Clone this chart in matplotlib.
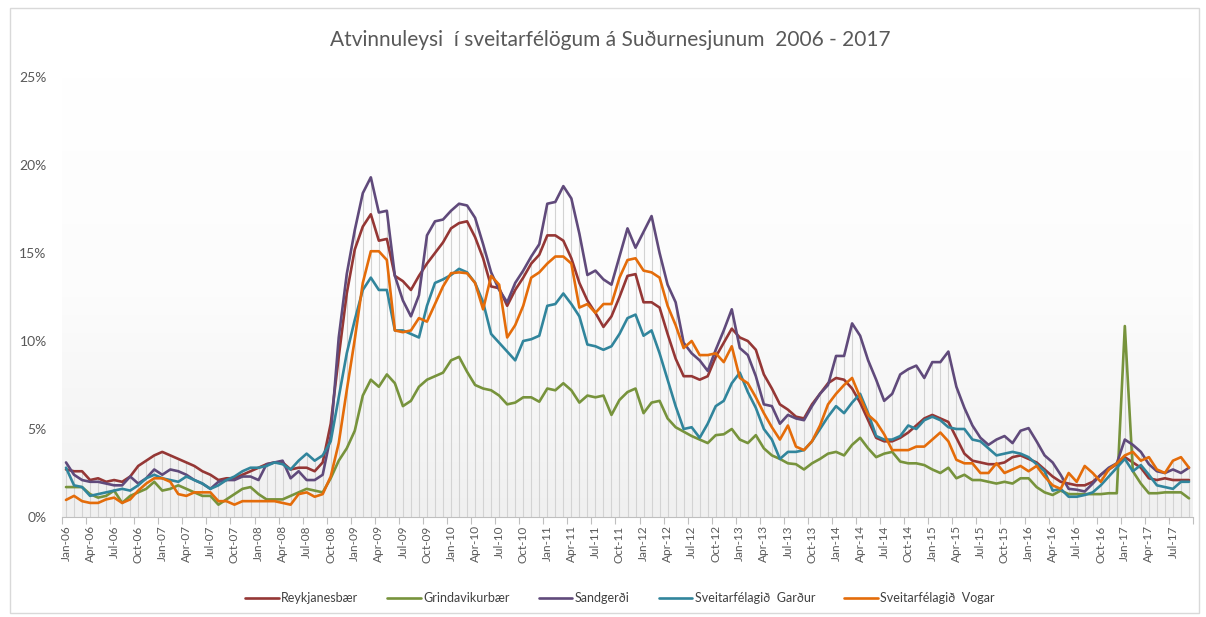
import numpy as np
import pandas as pd
import matplotlib
matplotlib.use("Agg")
from matplotlib import pyplot as plt
from matplotlib.patches import Rectangle
from matplotlib.colors import LinearSegmentedColormap

plt.rcParams['font.family'] = ['Lato', 'DejaVu Sans']

# monthly unemployment (%), Jan-06 .. Sep-17, one row per year
months = pd.date_range("2006-01-01", periods=141, freq="MS")
month_labels = [m.strftime("%b-%y") for m in months]

reykjanesbaer = [
    2.7, 2.6, 2.6, 2.1, 2.2, 2.0, 2.1, 2.0, 2.3, 2.9, 3.2, 3.5,
    3.7, 3.5, 3.3, 3.1, 2.9, 2.6, 2.4, 2.1, 2.2, 2.2, 2.4, 2.6,
    2.8, 3.0, 3.1, 3.1, 2.7, 2.8, 2.8, 2.6, 3.1, 5.3, 9.1, 12.7,
    15.2, 16.5, 17.2, 15.7, 15.8, 13.7, 13.4, 12.9, 13.7, 14.4, 15.0, 15.6,
    16.4, 16.7, 16.8, 15.9, 14.7, 13.1, 13.0, 12.0, 12.9, 13.6, 14.4, 14.9,
    16.0, 16.0, 15.7, 14.7, 13.3, 12.3, 11.6, 10.8, 11.4, 12.5, 13.7, 13.8,
    12.2, 12.2, 11.9, 10.4, 9.0, 8.0, 8.0, 7.8, 8.0, 9.1, 9.9, 10.7,
    10.2, 10.0, 9.5, 8.1, 7.3, 6.4, 6.1, 5.7, 5.6, 6.4, 7.0, 7.6,
    7.9, 7.8, 7.3, 6.5, 5.5, 4.5, 4.3, 4.3, 4.5, 4.8, 5.2, 5.6,
    5.8, 5.6, 5.4, 4.5, 3.6, 3.2, 3.1, 3.0, 3.0, 3.1, 3.4, 3.5,
    3.3, 3.1, 2.7, 2.3, 2.0, 1.9, 1.8, 1.8, 2.0, 2.4, 2.7, 3.0,
    3.4, 3.1, 2.8, 2.2, 2.1, 2.2, 2.1, 2.1, 2.1,
]

grindavik = [
    1.7, 1.7, 1.7, 1.3, 1.1, 1.2, 1.5, 0.8, 1.2, 1.4, 1.6, 2.0,
    1.5, 1.6, 1.8, 1.6, 1.4, 1.2, 1.2, 0.7, 1.0, 1.3, 1.6, 1.7,
    1.3, 1.0, 1.0, 1.0, 1.2, 1.4, 1.6, 1.5, 1.4, 2.2, 3.2, 3.9,
    4.9, 6.9, 7.8, 7.4, 8.1, 7.6, 6.3, 6.6, 7.4, 7.8, 8.0, 8.2,
    8.9, 9.1, 8.25, 7.5, 7.3, 7.2, 6.9, 6.4, 6.5, 6.8, 6.8, 6.55,
    7.3, 7.2, 7.6, 7.2, 6.5, 6.9, 6.8, 6.9, 5.8, 6.65, 7.1, 7.3,
    5.9, 6.5, 6.6, 5.6, 5.1, 4.85, 4.6, 4.4, 4.2, 4.65, 4.7, 5.0,
    4.4, 4.2, 4.65, 3.9, 3.5, 3.3, 3.05, 3.0, 2.7, 3.05, 3.3, 3.6,
    3.7, 3.5, 4.1, 4.5, 3.9, 3.4, 3.6, 3.7, 3.15, 3.05, 3.05, 2.95,
    2.7, 2.5, 2.8, 2.2, 2.4, 2.1, 2.1, 2.0, 1.9, 2.0, 1.9, 2.2,
    2.2, 1.7, 1.4, 1.25, 1.5, 1.3, 1.3, 1.3, 1.3, 1.3, 1.35, 1.35,
    10.85, 2.6, 1.9, 1.35, 1.35, 1.4, 1.4, 1.4, 1.06,
]

sandgerdi = [
    3.1, 2.4, 2.1, 2.0, 2.0, 1.9, 1.8, 1.8, 2.3, 1.9, 2.2, 2.7,
    2.4, 2.7, 2.6, 2.4, 2.1, 1.9, 1.6, 2.0, 2.1, 2.1, 2.3, 2.3,
    2.1, 3.0, 3.1, 3.2, 2.2, 2.6, 2.1, 2.1, 2.4, 4.6, 10.2, 13.8,
    16.3, 18.4, 19.3, 17.3, 17.4, 13.7, 12.3, 11.4, 12.6, 16.0, 16.8, 16.9,
    17.4, 17.8, 17.7, 17.0, 15.5, 13.9, 12.9, 12.2, 13.3, 14.0, 14.8, 15.5,
    17.8, 17.9, 18.8, 18.1, 16.1, 13.75, 14.0, 13.5, 13.2, 14.8, 16.4, 15.3,
    16.2, 17.1, 15.0, 13.2, 12.2, 9.9, 9.3, 8.9, 8.3, 9.5, 10.6, 11.8,
    9.6, 9.2, 8.0, 6.4, 6.3, 5.3, 5.8, 5.6, 5.5, 6.3, 7.0, 7.5,
    9.15, 9.15, 11.0, 10.3, 8.9, 7.8, 6.6, 7.0, 8.1, 8.4, 8.6, 7.9,
    8.8, 8.8, 9.4, 7.4, 6.2, 5.2, 4.5, 4.1, 4.4, 4.6, 4.2, 4.9,
    5.05, 4.3, 3.5, 3.1, 2.4, 1.6, 1.55, 1.45, 1.9, 2.4, 2.8, 3.05,
    4.4, 4.1, 3.7, 3.0, 2.6, 2.5, 2.7, 2.5, 2.8,
]

gardur = [
    2.8, 1.8, 1.7, 1.2, 1.3, 1.4, 1.5, 1.6, 1.5, 1.8, 2.2, 2.4,
    2.2, 2.1, 2.0, 2.3, 2.1, 1.9, 1.6, 1.8, 2.1, 2.3, 2.6, 2.8,
    2.8, 2.9, 3.1, 3.0, 2.7, 3.2, 3.6, 3.2, 3.5, 4.3, 6.8, 9.3,
    11.2, 12.9, 13.6, 12.9, 12.9, 10.6, 10.6, 10.4, 10.2, 12.0, 13.3, 13.5,
    13.75, 14.1, 13.9, 13.3, 12.2, 10.4, 9.9, 9.4, 8.9, 10.0, 10.1, 10.3,
    12.0, 12.1, 12.7, 12.1, 11.4, 9.8, 9.7, 9.5, 9.7, 10.4, 11.3, 11.5,
    10.3, 10.6, 9.3, 7.8, 6.3, 5.0, 5.1, 4.5, 5.3, 6.3, 6.6, 7.6,
    8.2, 7.1, 6.2, 5.0, 4.4, 3.3, 3.7, 3.7, 3.8, 4.3, 5.0, 5.7,
    6.3, 5.9, 6.5, 7.0, 5.9, 4.6, 4.4, 4.4, 4.6, 5.2, 5.0, 5.5,
    5.7, 5.5, 5.1, 5.0, 5.0, 4.4, 4.3, 3.9, 3.5, 3.6, 3.7, 3.6,
    3.4, 3.0, 2.6, 1.5, 1.6, 1.15, 1.15, 1.25, 1.4, 1.8, 2.3, 2.8,
    3.3, 2.6, 2.95, 2.4, 1.8, 1.7, 1.6, 2.0, 2.0,
]

vogar = [
    0.97, 1.2, 0.9, 0.8, 0.8, 1.0, 1.1, 0.8, 1.0, 1.5, 1.9, 2.2,
    2.2, 2.0, 1.3, 1.2, 1.4, 1.4, 1.4, 0.9, 0.9, 0.7, 0.9, 0.9,
    0.9, 0.9, 0.9, 0.8, 0.7, 1.3, 1.4, 1.15, 1.3, 2.3, 4.2, 7.2,
    10.1, 13.3, 15.1, 15.1, 14.6, 10.6, 10.5, 10.6, 11.3, 11.1, 12.1, 13.1,
    13.85, 13.9, 13.85, 13.3, 11.8, 13.7, 13.2, 10.2, 10.9, 12.0, 13.6, 13.9,
    14.4, 14.8, 14.8, 14.4, 11.9, 12.1, 11.6, 12.1, 12.1, 13.6, 14.6, 14.7,
    14.0, 13.9, 13.6, 12.0, 10.9, 9.6, 10.0, 9.2, 9.2, 9.3, 8.8, 9.7,
    7.9, 7.6, 6.8, 5.9, 5.1, 4.4, 5.2, 4.0, 3.8, 4.3, 5.2, 6.4,
    7.0, 7.5, 7.9, 6.8, 5.8, 5.4, 4.7, 3.8, 3.8, 3.8, 4.0, 4.0,
    4.4, 4.8, 4.3, 3.25, 3.05, 3.05, 2.5, 2.5, 3.05, 2.5, 2.7, 2.9,
    2.6, 2.9, 2.3, 1.8, 1.6, 2.5, 2.0, 2.9, 2.5, 2.0, 2.7, 3.05,
    3.5, 3.7, 3.2, 3.4, 2.7, 2.5, 3.2, 3.4, 2.8,
]

series_names = ["Reykjanesbær", "Grindavikurbær", "Sandgerði",
                "Sveitarfélagið  Garður", "Sveitarfélagið  Vogar"]
series_colors = ["#953735", "#77933C", "#604A7B", "#31859C", "#E46C0A"]
all_series = [reykjanesbaer, grindavik, sandgerdi, gardur, vogar]

W, H = 1206, 617
fig = plt.figure(figsize=(W / 100, H / 100), dpi=100)

# chart border
fig.patches.append(Rectangle((10 / W, 4 / H), 1189 / W, 605 / H, transform=fig.transFigure,
                             fill=False, edgecolor="#d9d9d9", linewidth=1))

ax = fig.add_axes([62 / W, 1 - 517 / H, (1193 - 62) / W, (517 - 77) / H])
x = np.arange(len(months))

# soft grey gradient in plot area
grad = LinearSegmentedColormap.from_list("bg", ["#ffffff", "#fcfcfc", "#f0f0f0"])
ax.imshow(np.linspace(0, 1, 256).reshape(-1, 1), extent=[0, 1, 0, 1], transform=ax.transAxes,
          cmap=grad, aspect="auto", zorder=0)

# drop lines
top = np.max(np.array(all_series), axis=0)
ax.vlines(x, 0, top, color="#d3d3d3", linewidth=0.8, zorder=1)

lines = []
for vals, name, col in zip(all_series, series_names, series_colors):
    ln, = ax.plot(x, vals, color=col, linewidth=1.9, label=name, zorder=3,
                  solid_joinstyle="round", solid_capstyle="round")
    lines.append(ln)

ax.set_xlim(-0.5, len(months) - 0.5)
ax.set_ylim(0, 25)

ax.set_yticks(np.arange(0, 26, 5))
ax.set_yticklabels([f"{v}%" for v in range(0, 26, 5)])
ax.tick_params(axis="y", length=0, pad=11, labelsize=10, labelcolor="#595959")

ax.set_xticks(x[::3])
ax.set_xticklabels(month_labels[::3], rotation=90)
ax.set_xticks(np.append(x[::3] - 0.5, len(months) - 0.5), minor=True)
ax.tick_params(axis="x", which="major", length=0, pad=6, labelsize=8.5, labelcolor="#595959")
ax.tick_params(axis="x", which="minor", length=5, color="#bfbfbf", width=0.8)

for s in ["top", "right", "left"]:
    ax.spines[s].set_visible(False)
ax.spines["bottom"].set_color("#bfbfbf")

fig.text(0.506, 1 - 40 / H, "Atvinnuleysi  í sveitarfélögum á Suðurnesjunum  2006 - 2017",
         ha="center", va="center", fontsize=15, color="#595959")

fig.legend(handles=lines, loc="center", bbox_to_anchor=(0.514, 1 - 598 / H), ncol=5,
           frameon=False, fontsize=9, handlelength=2.7, handletextpad=0.2,
           columnspacing=2.3, labelcolor="#404040")

fig.savefig("out.png", dpi=100)
